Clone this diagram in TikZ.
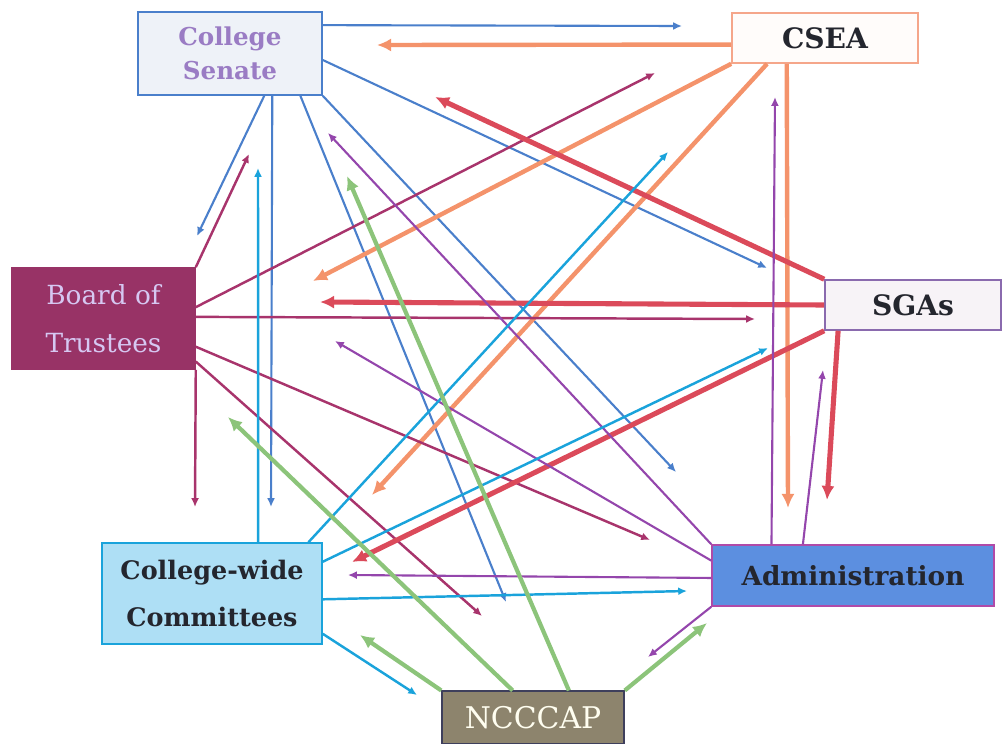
\documentclass[tikz,border=0pt]{standalone}
\usepackage{fontspec}
\setmainfont{DejaVu Serif}
\usetikzlibrary{arrows.meta}

\definecolor{senateblue}{HTML}{4A7FCB}
\definecolor{senatefill}{HTML}{EEF2F8}
\definecolor{senatetext}{HTML}{9A7CC4}
\definecolor{cseaorange}{HTML}{F4936B}
\definecolor{cseaborder}{HTML}{F5A68A}
\definecolor{cseafill}{HTML}{FFFCFA}
\definecolor{trusteemag}{HTML}{A8346C}
\definecolor{trusteefill}{HTML}{983366}
\definecolor{trusteetext}{HTML}{D6C8F2}
\definecolor{sgared}{HTML}{DB4A5A}
\definecolor{sgaborder}{HTML}{8A6AAE}
\definecolor{sgafill}{HTML}{F7F3F7}
\definecolor{adminpurple}{HTML}{9446AC}
\definecolor{adminfill}{HTML}{5C8FE0}
\definecolor{adminborder}{HTML}{B04AA8}
\definecolor{cwcyan}{HTML}{1AA3DB}
\definecolor{cwfill}{HTML}{AEDFF5}
\definecolor{ncgreen}{HTML}{8CC47A}
\definecolor{ncfill}{HTML}{8D846D}
\definecolor{ncborder}{HTML}{3E3F5C}
\definecolor{darktext}{HTML}{24262E}

\begin{document}
\begin{tikzpicture}[x=0.02cm, y=-0.02cm,
    box/.style={draw, rectangle, align=center, line width=0.9pt},
    thinlink/.style={-{Latex[length=5pt,width=4.5pt]}, line width=1.2pt},
    thicklink/.style={-{Latex[length=8pt,width=7.5pt]}, line width=2.5pt},
    fromcs/.style={thinlink, senateblue},
    fromcsea/.style={thicklink, cseaorange},
    frombt/.style={thinlink, trusteemag, line width=1.4pt},
    fromsga/.style={thicklink, sgared, line width=2.9pt},
    fromad/.style={thinlink, adminpurple},
    fromcw/.style={thinlink, cwcyan, line width=1.4pt},
    fromnc/.style={thicklink, ncgreen, line width=2.4pt}]

    \useasboundingbox (0,0) rectangle (1002,744);

    % Les sept instances
    \node[box, fill=senatefill, draw=senateblue, text=senatetext, minimum width=3.68cm, minimum height=1.66cm, font=\bfseries\fontsize{14}{19}\selectfont] (CS) at (230,53.5) {College\\Senate};
    \node[box, fill=cseafill, draw=cseaborder, text=darktext, minimum width=3.72cm, minimum height=1cm, font=\bfseries\fontsize{16}{19}\selectfont] (CSEA) at (825,38) {CSEA};
    \node[box, fill=trusteefill, draw=trusteefill, text=trusteetext, minimum width=3.66cm, minimum height=2.02cm, font=\fontsize{15}{27.5}\selectfont] (BT) at (103.5,318.5) {Board of\\Trustees};
    \node[box, fill=sgafill, draw=sgaborder, text=darktext, minimum width=3.52cm, minimum height=1cm, font=\bfseries\fontsize{16}{19}\selectfont] (SGA) at (913,305) {SGAs};
    \node[box, fill=cwfill, draw=cwcyan, text=darktext, minimum width=4.4cm, minimum height=2.02cm, font=\bfseries\fontsize{14.5}{26.5}\selectfont] (CW) at (212,593.5) {College-wide\\Committees};
    \node[box, fill=adminfill, draw=adminborder, text=darktext, minimum width=5.64cm, minimum height=1.22cm, font=\bfseries\fontsize{15}{19}\selectfont] (AD) at (853,575.5) {Administration};
    \node[box, fill=ncfill, draw=ncborder, text=white!94!yellow, minimum width=3.64cm, minimum height=1.05cm, font=\fontsize{17}{20}\selectfont] (NC) at (533,717.5) {NCCCAP};

    % Pointes des flèches
    \coordinate (cs2csea) at (682,26);
    \coordinate (cs2sga) at (767,268);
    \coordinate (cs2bt) at (197,236);
    \coordinate (cs2cw) at (271,507);
    \coordinate (cs2nc) at (506,602);
    \coordinate (cs2ad) at (676,472);
    \coordinate (csea2cs) at (377,45);
    \coordinate (csea2bt) at (313,281);
    \coordinate (csea2cw) at (372,495);
    \coordinate (csea2ad) at (788,508);
    \coordinate (bt2cs) at (249,154);
    \coordinate (bt2csea) at (655,73);
    \coordinate (bt2sga) at (755,319);
    \coordinate (bt2ad) at (650,540);
    \coordinate (bt2nc) at (482,616);
    \coordinate (bt2cw) at (195,507);
    \coordinate (sga2cs) at (435,97);
    \coordinate (sga2bt) at (320,302);
    \coordinate (sga2cw) at (352,562);
    \coordinate (sga2ad) at (827,500);
    \coordinate (ad2csea) at (775,97);
    \coordinate (ad2sga) at (823,370);
    \coordinate (ad2cs) at (328,133);
    \coordinate (ad2bt) at (335,341);
    \coordinate (ad2cw) at (348,575);
    \coordinate (ad2nc) at (648,657);
    \coordinate (cw2cs) at (258,168);
    \coordinate (cw2csea) at (668,152);
    \coordinate (cw2sga) at (768,348);
    \coordinate (cw2ad) at (687,591);
    \coordinate (cw2nc) at (417,695);
    \coordinate (nc2cw) at (360,635);
    \coordinate (nc2bt) at (228,417);
    \coordinate (nc2cs) at (347,176);
    \coordinate (nc2ad) at (707,623);

    % Depuis le College Senate
    \draw[fromcs] (CS.17) -- (cs2csea);
    \draw[fromcs] (CS.-4) -- (cs2sga);
    \draw[fromcs] (CS.-51) -- (cs2bt);
    \draw[fromcs] (CS.-45) -- (cs2cw);
    \draw[fromcs] (CS.-31) -- (cs2nc);
    \draw[fromcs] (CS.south east) -- (cs2ad);

    % Depuis CSEA
    \draw[fromcsea] (CSEA.184) -- (csea2cs);
    \draw[fromcsea] (CSEA.south west) -- (csea2bt);
    \draw[fromcsea] (CSEA.204) -- (csea2cw);
    \draw[fromcsea] (CSEA.214) -- (csea2ad);

    % Depuis le Board of Trustees
    \draw[frombt] (BT.north east) -- (bt2cs);
    \draw[frombt] (BT.7) -- (bt2csea);
    \draw[frombt] (BT.1) -- (bt2sga);
    \draw[frombt] (BT.-17) -- (bt2ad);
    \draw[frombt] (BT.-25) -- (bt2nc);
    \draw[frombt] (BT.south east) -- (bt2cw);

    % Depuis les SGAs
    \draw[fromsga] (SGA.north west) -- (sga2cs);
    \draw[fromsga] (SGA.west) -- (sga2bt);
    \draw[fromsga] (SGA.south west) -- (sga2cw);
    \draw[fromsga] (SGA.199) -- (sga2ad);

    % Depuis l'Administration
    \draw[fromad] (AD.159) -- (ad2csea);
    \draw[fromad] (AD.148) -- (ad2sga);
    \draw[fromad] (AD.north west) -- (ad2cs);
    \draw[fromad] (AD.174) -- (ad2bt);
    \draw[fromad] (AD.181) -- (ad2cw);
    \draw[fromad] (AD.south west) -- (ad2nc);

    % Depuis les College-wide Committees
    \draw[fromcw] (CW.48) -- (cw2cs);
    \draw[fromcw] (CW.28) -- (cw2csea);
    \draw[fromcw] (CW.16) -- (cw2sga);
    \draw[fromcw] (CW.-3) -- (cw2ad);
    \draw[fromcw] (CW.-20) -- (cw2nc);

    % Depuis NCCCAP
    \draw[fromnc] (NC.north west) -- (nc2cw);
    \draw[fromnc] (NC.127) -- (nc2bt);
    \draw[fromnc] (NC.37) -- (nc2cs);
    \draw[fromnc] (NC.north east) -- (nc2ad);

\end{tikzpicture}
\end{document}
